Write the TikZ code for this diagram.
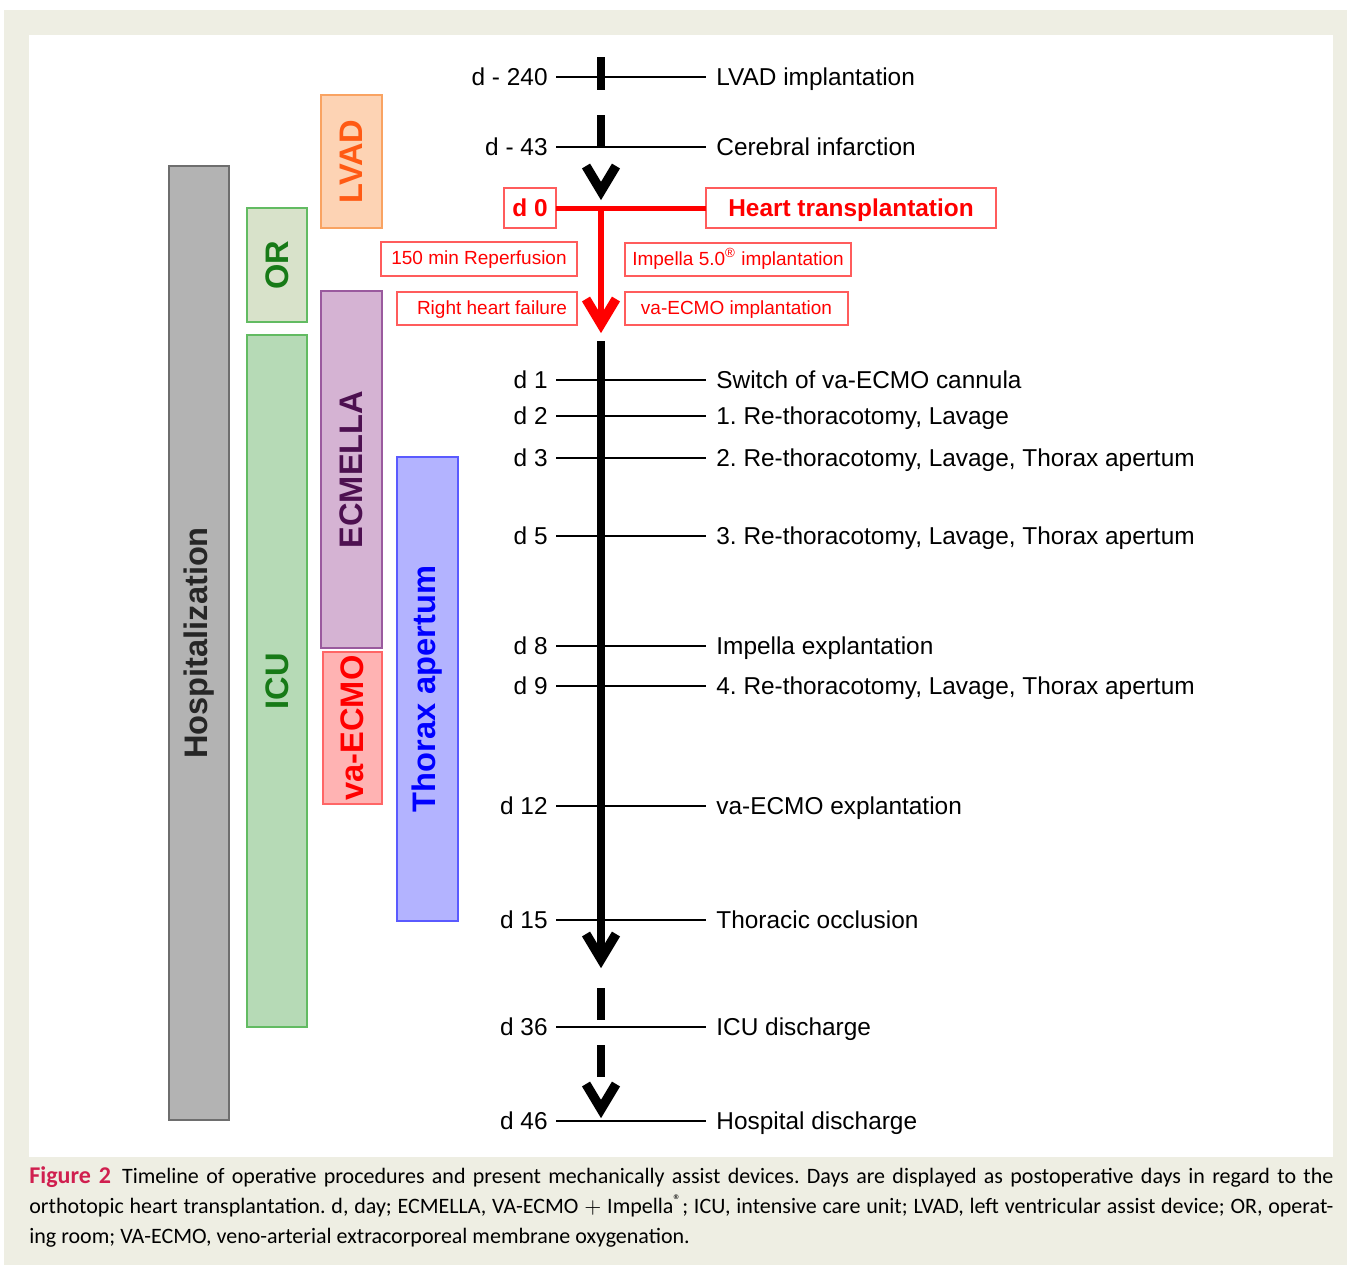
\documentclass[tikz,border=0pt]{standalone}
\usepackage{fontspec}
\setmainfont{Liberation Sans}
\newfontfamily\capfont{Carlito}
\usetikzlibrary{calc}
\frenchspacing
\definecolor{bgbeige}{HTML}{EEEEE3}
\definecolor{hospfill}{HTML}{B3B3B3}
\definecolor{hospdraw}{HTML}{6E6E6E}
\definecolor{orfill}{HTML}{D8E2CA}
\definecolor{icufill}{HTML}{B6DAB6}
\definecolor{grdraw}{HTML}{62BB62}
\definecolor{grtext}{HTML}{177A17}
\definecolor{lvfill}{HTML}{FDD3B4}
\definecolor{lvdraw}{HTML}{F9A362}
\definecolor{lvtext}{HTML}{FF5A14}
\definecolor{ecfill}{HTML}{D5B3D3}
\definecolor{ecdraw}{HTML}{9A5A9E}
\definecolor{ectext}{HTML}{4D1050}
\definecolor{vafill}{HTML}{FFB3B3}
\definecolor{vadraw}{HTML}{FF6666}
\definecolor{thfill}{HTML}{B3B3FF}
\definecolor{thdraw}{HTML}{5A5AFF}
\definecolor{thtext}{HTML}{0000FF}
\definecolor{boxred}{HTML}{FF5C5C}
\definecolor{figred}{HTML}{D01F4F}
\newcommand\mychev[2]{\draw[chev,#2] ($(#1)+(-15,-25)$) -- (#1) -- ($(#1)+(15,-25)$);}
\begin{document}
\begin{tikzpicture}[x=0.5pt,y=-0.5pt,
  bar/.style={draw, line width=0.75pt, rotate=90, inner sep=0pt, outer sep=0pt,
    font=\fontsize{16.3}{19}\selectfont\bfseries},
  lab/.style={inner sep=0pt, font=\fontsize{12.2}{14}\selectfont},
  redbox/.style={draw=boxred, line width=0.6pt, text=red, inner sep=0pt, outer sep=0pt,
    text height=7pt, text depth=1.2pt, font=\fontsize{9.5}{11}\selectfont},
  bigred/.style={redbox, text height=8.8pt, text depth=0pt, font=\fontsize{12.2}{14}\selectfont\bfseries},
  tick/.style={line width=1.4pt},
  axis/.style={line width=4pt},
  chev/.style={line width=4.7pt, line join=miter}]
\useasboundingbox (0,0) rectangle (1347,1265);
\fill[white] (0,0) rectangle (1347,1265);
\fill[bgbeige] (4,10) rectangle (1347,1265);
\fill[white] (29,35) rectangle (1333,1157);

% bars
\node[bar, fill=hospfill, draw=hospdraw, text=black!85, minimum width=477pt, minimum height=30pt] (hosp) at (199,643) {Hospitalization};
\node[bar, fill=orfill, draw=grdraw, text=grtext, minimum width=57pt, minimum height=30pt] (or) at (277,265) {OR};
\node[bar, fill=icufill, draw=grdraw, text=grtext, minimum width=346pt, minimum height=30pt] (icu) at (277,681) {ICU};
\node[bar, fill=lvfill, draw=lvdraw, text=lvtext, minimum width=66.5pt, minimum height=30.5pt] (lvad) at (351.5,161.5) {LVAD};
\node[bar, fill=ecfill, draw=ecdraw, text=ectext, minimum width=178.5pt, minimum height=30.5pt] (ecm) at (351.5,469.5) {ECMELLA};
\node[bar, fill=vafill, draw=vadraw, text=red, minimum width=76pt, minimum height=29.5pt] (vaecmo) at (352.5,728) {va-ECMO};
\node[bar, fill=thfill, draw=thdraw, text=thtext, minimum width=232pt, minimum height=30.5pt] (thorax) at (427.5,689) {Thorax apertum};

% timeline ticks and labels
\foreach \y/\d/\t/\n in {77/{d - 240}/{LVAD implantation}/a,
  147/{d - 43}/{Cerebral infarction}/b,
  380/{d 1}/{Switch of va-ECMO cannula}/c,
  416/{d 2}/{1. Re-thoracotomy, Lavage}/e,
  458/{d 3}/{2. Re-thoracotomy, Lavage, Thorax apertum}/f,
  536/{d 5}/{3. Re-thoracotomy, Lavage, Thorax apertum}/g,
  646/{d 8}/{Impella explantation}/h,
  686/{d 9}/{4. Re-thoracotomy, Lavage, Thorax apertum}/i,
  806/{d 12}/{va-ECMO explantation}/j,
  920/{d 15}/{Thoracic occlusion}/k,
  1027/{d 36}/{ICU discharge}/l,
  1121/{d 46}/{Hospital discharge}/m}{
  \coordinate (tl\n) at (556,\y);
  \coordinate (tr\n) at (706,\y);
  \draw[tick] (tl\n) -- (tr\n);
  \node[lab, anchor=base east] (dl\n) at (548,\y+8.5) {\d};
  \node[lab, anchor=base west] (ev\n) at (716,\y+8.5) {\t};
}

% axis (black)
\coordinate (s1a) at (601,57);  \coordinate (s1b) at (601,90);
\coordinate (s2a) at (601,115); \coordinate (s2b) at (601,147);
\coordinate (v1) at (601,191);
\draw[axis] (s1a) -- (s1b);
\draw[axis] (s2a) -- (s2b);
\mychev{v1}{black}

% day 0 (red)
\node[bigred, minimum width=26pt, minimum height=20pt] (d0) at (530,208) {d 0};
\node[bigred, minimum width=145pt, minimum height=20pt] (heart) at (851,208) {Heart transplantation};
\node[redbox, minimum width=98pt, minimum height=17pt] (reperf) at (479,259) {150 min Reperfusion};
\node[redbox, minimum width=113pt, minimum height=16.5pt] (impella) at (738,259.5) {Impella 5.0\textsuperscript{®} implantation};
\node[redbox, minimum width=90pt, minimum height=16.5pt] (rhf) at (487,308.5) {\hspace*{5pt}Right heart failure};
\node[redbox, minimum width=111.5pt, minimum height=16.5pt] (vaimp) at (736.5,308.5) {va-ECMO implantation};
\coordinate (rtop) at (601,208);
\coordinate (v2) at (601,324);
\draw[red, line width=2.5pt] (d0.east) -- (heart.west);
\draw[red, line width=3pt] (rtop) -- (v2);
\mychev{v2}{red}

% main axis
\coordinate (m1) at (601,341);
\coordinate (v3) at (601,959);
\draw[axis] (m1) -- (v3);
\mychev{v3}{black}

% dashed tail
\coordinate (s3a) at (601,988);  \coordinate (s3b) at (601,1020);
\coordinate (s4a) at (601,1045); \coordinate (s4b) at (601,1077);
\coordinate (v4) at (601,1109);
\draw[axis] (s3a) -- (s3b);
\draw[axis] (s4a) -- (s4b);
\mychev{v4}{black}

% caption
\node[anchor=base west, inner sep=0pt] (cap) at (29,1183) {\parbox[t]{652pt}{\capfont\fontsize{11}{15}\selectfont\leavevmode
{\color{figred}\bfseries\fontsize{12}{15}\selectfont Figure 2}\enspace Timeline of operative procedures and present mechanically assist devices. Days are displayed as postoperative days in regard to the\linebreak
orthotopic heart transplantation. d, day; ECMELLA, VA-ECMO $+$ Impella\textsuperscript{®}; ICU, intensive care unit; LVAD, left ventricular assist device; OR, operat-\linebreak
ing room; VA-ECMO, veno-arterial extracorporeal membrane oxygenation.}};
\end{tikzpicture}
\end{document}
